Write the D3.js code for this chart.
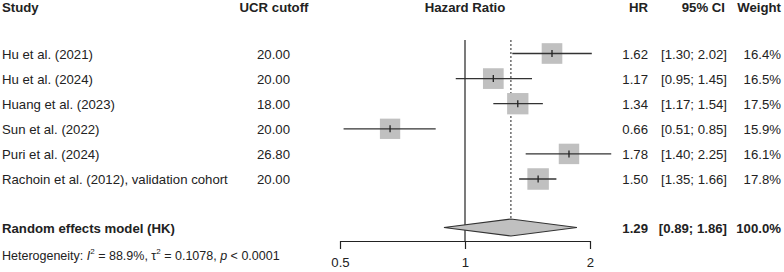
<!DOCTYPE html>
<html>
<head>
<meta charset="utf-8">
<script src="https://cdn.jsdelivr.net/npm/d3@7"></script>
<style>
  body { margin: 0; background: #fff; }
  text { font-family: "Liberation Sans", Arial, sans-serif; fill: #222; }
</style>
</head>
<body>
<svg id="drawing_region"></svg>
<script>
// study data
const studies = ["Hu et al. (2021)", "Hu et al. (2024)", "Huang et al. (2023)", "Sun et al. (2022)", "Puri et al. (2024)", "Rachoin et al. (2012), validation cohort"];
const cutoffs = ["20.00", "20.00", "18.00", "20.00", "26.80", "20.00"];
const hr = [1.62, 1.17, 1.34, 0.66, 1.78, 1.50];
const lower = [1.30, 0.95, 1.17, 0.51, 1.40, 1.35];
const upper = [2.02, 1.45, 1.54, 0.85, 2.25, 1.66];
const weights = [16.4, 16.5, 17.5, 15.9, 16.1, 17.8];

// pooled estimate
const pooled = {label: "Random effects model (HK)", hr: 1.29, lower: 0.89, upper: 1.86, weight: 100.0};
const tickValues = [0.5, 1, 2];

const width = 784, height = 272;
const fs = 13.2;

const svg = d3.select('#drawing_region')
    .attr('width', width)
    .attr('height', height);

const xscale = d3.scaleLog()
    .domain([0.5, 2])
    .range([340, 590]);

const rowY = d3.scalePoint()
    .domain(d3.range(studies.length))
    .range([53.5, 179]);

const boxSize = d3.scaleSqrt()
    .domain([0, 17.8])
    .range([0, 21.5]);

const pooledY = 227.5;
const axisY = 241;

const fmt2 = d3.format('.2f');
const fmt1 = d3.format('.1f');

// headers
const headers = [
    {t: "Study", x: 2, anchor: 'start'},
    {t: "UCR cutoff", x: 274, anchor: 'middle'},
    {t: "Hazard Ratio", x: xscale(1), anchor: 'middle'},
    {t: "HR", x: 648, anchor: 'end'},
    {t: "95% CI", x: 725, anchor: 'end'},
    {t: "Weight", x: 781, anchor: 'end'}
];
svg.append('g').selectAll('text').data(headers).enter()
    .append('text')
    .attr('x', d => d.x)
    .attr('y', 12)
    .attr('text-anchor', d => d.anchor)
    .attr('font-size', fs)
    .attr('font-weight', 'bold')
    .text(d => d.t);

// reference line at 1
svg.append('line')
    .attr('x1', xscale(1)).attr('x2', xscale(1))
    .attr('y1', 40).attr('y2', axisY)
    .attr('stroke', '#222').attr('stroke-width', 1.2);

// pooled dotted line
svg.append('line')
    .attr('x1', xscale(pooled.hr)).attr('x2', xscale(pooled.hr))
    .attr('y1', 40).attr('y2', pooledY - 8)
    .attr('stroke', '#222').attr('stroke-width', 1)
    .attr('stroke-dasharray', '2,2');

// rows
const rows = svg.append('g').selectAll('g').data(studies).enter()
    .append('g')
    .attr('transform', (d, i) => `translate(0, ${rowY(i)})`);

rows.append('rect')
    .attr('x', (d, i) => xscale(hr[i]) - boxSize(weights[i]) / 2)
    .attr('y', (d, i) => -boxSize(weights[i]) / 2)
    .attr('width', (d, i) => boxSize(weights[i]))
    .attr('height', (d, i) => boxSize(weights[i]))
    .attr('fill', '#c0c0c0');

rows.append('line')
    .attr('x1', (d, i) => xscale(lower[i]))
    .attr('x2', (d, i) => xscale(upper[i]))
    .attr('stroke', '#333').attr('stroke-width', 1.3);

rows.append('line')
    .attr('x1', (d, i) => xscale(hr[i]))
    .attr('x2', (d, i) => xscale(hr[i]))
    .attr('y1', -3.5).attr('y2', 3.5)
    .attr('stroke', '#222').attr('stroke-width', 1.3);

const cols = [
    {x: 2, anchor: 'start', f: (d, i) => d},
    {x: 290, anchor: 'end', f: (d, i) => cutoffs[i]},
    {x: 648, anchor: 'end', f: (d, i) => fmt2(hr[i])},
    {x: 727, anchor: 'end', f: (d, i) => `[${fmt2(lower[i])}; ${fmt2(upper[i])}]`},
    {x: 781, anchor: 'end', f: (d, i) => `${fmt1(weights[i])}%`}
];
cols.forEach(c => {
    rows.append('text')
        .attr('x', c.x)
        .attr('y', 5)
        .attr('text-anchor', c.anchor)
        .attr('font-size', fs)
        .text(c.f);
});

// pooled diamond
const diamond = [
    [xscale(pooled.lower), pooledY],
    [xscale(pooled.hr), pooledY - 8.5],
    [xscale(pooled.upper), pooledY],
    [xscale(pooled.hr), pooledY + 8.5]
];
svg.append('path')
    .attr('d', d3.line()(diamond) + 'Z')
    .attr('fill', '#c0c0c0')
    .attr('stroke', '#333')
    .attr('stroke-width', 1.2);

const pooledCols = [
    {x: 2, anchor: 'start', t: pooled.label},
    {x: 648, anchor: 'end', t: fmt2(pooled.hr)},
    {x: 727, anchor: 'end', t: `[${fmt2(pooled.lower)}; ${fmt2(pooled.upper)}]`},
    {x: 781, anchor: 'end', t: `${fmt1(pooled.weight)}%`}
];
svg.append('g').selectAll('text').data(pooledCols).enter()
    .append('text')
    .attr('x', d => d.x)
    .attr('y', pooledY + 5)
    .attr('text-anchor', d => d.anchor)
    .attr('font-size', fs)
    .attr('font-weight', 'bold')
    .text(d => d.t);

// heterogeneity
const het = svg.append('text')
    .attr('x', 2)
    .attr('y', 260)
    .attr('font-size', 12.5);
het.append('tspan').text('Heterogeneity: ');
het.append('tspan').attr('font-style', 'italic').text('I');
het.append('tspan').attr('font-size', 8).attr('dy', -6).text('2');
het.append('tspan').attr('dy', 6).text(' = 88.9%, τ');
het.append('tspan').attr('font-size', 8).attr('dy', -6).text('2');
het.append('tspan').attr('dy', 6).text(' = 0.1078, ');
het.append('tspan').attr('font-style', 'italic').text('p');
het.append('tspan').text(' < 0.0001');

// axis
const xaxis = d3.axisBottom(xscale)
    .tickValues(tickValues)
    .tickFormat(d3.format(''))
    .tickSize(8)
    .tickSizeOuter(0)
    .tickPadding(9);

const axisG = svg.append('g')
    .attr('transform', `translate(0, ${axisY})`)
    .call(xaxis);
axisG.select('.domain').attr('stroke', '#222').attr('stroke-width', 1.2);
axisG.selectAll('.tick line').attr('stroke', '#222').attr('stroke-width', 1.2);
axisG.selectAll('.tick text')
    .attr('font-size', fs)
    .attr('font-family', '"Liberation Sans", Arial, sans-serif')
    .attr('fill', '#222');
</script>
</body>
</html>
